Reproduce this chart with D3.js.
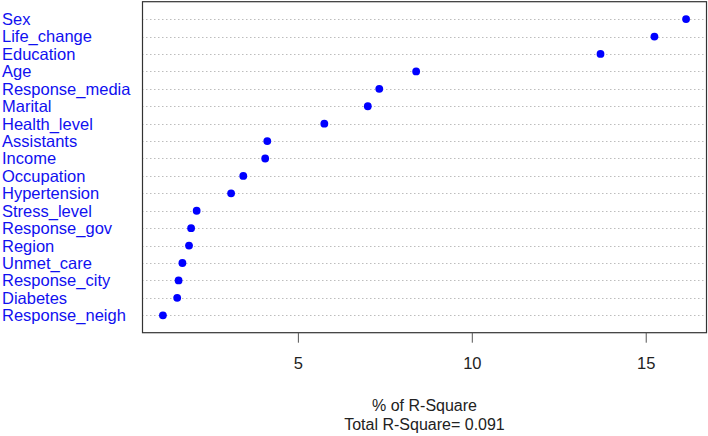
<!DOCTYPE html>
<html>
<head>
<meta charset="utf-8">
<script src="https://cdn.jsdelivr.net/npm/d3@7"></script>
<style>
  html, body { margin: 0; padding: 0; background: #ffffff; }
  svg { display: block; }
</style>
</head>
<body>
<svg id="chart" width="708" height="436"></svg>
<script>
// Data (top to bottom as shown)
const variables = ["Sex", "Life_change", "Education", "Age", "Response_media", "Marital",
  "Health_level", "Assistants", "Income", "Occupation", "Hypertension", "Stress_level",
  "Response_gov", "Region", "Unmet_care", "Response_city", "Diabetes", "Response_neigh"];
const pctRSquare = [16.16, 15.25, 13.70, 8.40, 7.34, 7.01,
  5.76, 4.12, 4.06, 3.43, 3.08, 2.09,
  1.93, 1.87, 1.68, 1.57, 1.53, 1.12];
const xTicks = [5, 10, 15];
const xTitle = "% of R-Square";
const subTitle = "Total R-Square= 0.091";

const W = 708, H = 436;
const plot = { left: 142, right: 707, top: 1.7, bottom: 332.7 };

const svg = d3.select("#chart");
const n = variables.length;

const minV = d3.min(pctRSquare), maxV = d3.max(pctRSquare);
const pad = (maxV - minV) * 0.04;
const x = d3.scaleLinear().domain([minV - pad, maxV + pad]).range([plot.left, plot.right]);
// R dotchart: rows at 1..n from bottom, ylim 0..n+1
const y = d3.scaleLinear().domain([0, n + 1]).range([plot.bottom, plot.top]);

const rows = variables.map((v, i) => ({ name: v, value: pctRSquare[i], pos: n - i }));

// gridlines (dotted)
svg.append("g").selectAll("line").data(rows).join("line")
  .attr("x1", plot.left).attr("x2", plot.right)
  .attr("y1", d => Math.round(y(d.pos)) + 0.5).attr("y2", d => Math.round(y(d.pos)) + 0.5)
  .attr("stroke", "#bdbdbd").attr("stroke-width", 1).attr("stroke-dasharray", "1.5,2.5");

// points
svg.append("g").selectAll("circle").data(rows).join("circle")
  .attr("cx", d => x(d.value)).attr("cy", d => y(d.pos))
  .attr("r", 3.9).attr("fill", "#0000ff");

// labels
svg.append("g").selectAll("text").data(rows).join("text")
  .attr("x", 2).attr("y", d => y(d.pos))
  .attr("dy", "0.36em")
  .attr("font-family", "Liberation Sans, Arial, sans-serif")
  .attr("font-size", "16.5px")
  .attr("fill", "#1010f0")
  .text(d => d.name);

// box
svg.append("rect")
  .attr("x", plot.left + 0.5).attr("y", plot.top)
  .attr("width", plot.right - plot.left - 1).attr("height", plot.bottom - plot.top)
  .attr("fill", "none").attr("stroke", "#333").attr("stroke-width", 1.2);

// x axis
const axis = d3.axisBottom(x).tickValues(xTicks).tickSize(10).tickPadding(15).tickFormat(d3.format("d"));
const ag = svg.append("g").attr("transform", `translate(0,${plot.bottom})`).call(axis);
ag.select(".domain").remove();
ag.selectAll(".tick line").attr("stroke", "#555");
ag.selectAll(".tick text")
  .attr("font-family", "Liberation Sans, Arial, sans-serif")
  .attr("font-size", "16.5px").attr("fill", "#222");

const cx = (plot.left + plot.right) / 2;
svg.append("text").attr("x", cx).attr("y", 411).attr("text-anchor", "middle")
  .attr("font-family", "Liberation Sans, Arial, sans-serif").attr("font-size", "16px").attr("fill", "#222")
  .text(xTitle);
svg.append("text").attr("x", cx).attr("y", 430).attr("text-anchor", "middle")
  .attr("font-family", "Liberation Sans, Arial, sans-serif").attr("font-size", "16px").attr("fill", "#222")
  .text(subTitle);
</script>
</body>
</html>
